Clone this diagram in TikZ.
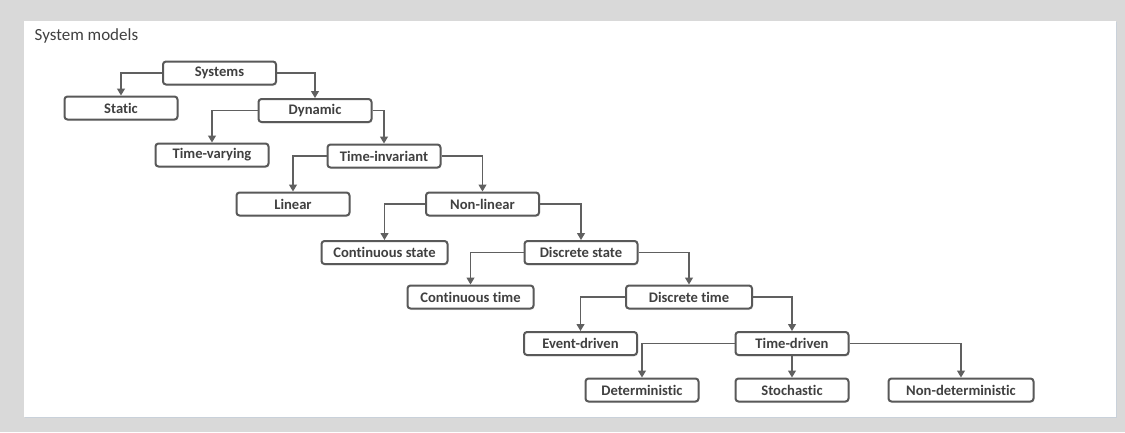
\documentclass[tikz,border=0pt]{standalone}
\usepackage{fontspec}
\setmainfont{Carlito}[Ligatures=CommonOff]
\usetikzlibrary{arrows.meta,shadows}
\definecolor{pagegray}{HTML}{D9D9D9}
\definecolor{paneledge}{HTML}{C9D1DA}
\definecolor{boxline}{HTML}{595959}
\definecolor{wireline}{HTML}{606060}
\definecolor{inktext}{HTML}{404040}
\tikzset{
  box/.style={draw=boxline, line width=2pt, rounded corners=3pt, fill=white,
    minimum width=113pt, minimum height=23pt, inner sep=0pt,
    text=inktext, font=\fontsize{14.6}{16}\selectfont\bfseries,
    drop shadow={opacity=0.12, shadow xshift=1pt, shadow yshift=-1.5pt}},
  widebox/.style={box, minimum width=126pt},
  widestbox/.style={box, minimum width=145pt},
  wire/.style={draw=wireline, line width=1.1pt,
    -{Triangle[length=7pt,width=8pt]}},
}
\begin{document}
\begin{tikzpicture}[x=1pt, y=-1pt]
  % page and white panel
  \fill[pagegray] (0,0) rectangle (1125,432);
  \useasboundingbox (0,0) rectangle (1125,432);
  \fill[paneledge] (25,22) rectangle (1117,418);
  \fill[white] (24,21) rectangle (1116,417);
  \node[anchor=base west, text=inktext, font=\fontsize{17}{19}\selectfont, inner sep=0pt]
    (title) at (34.5,40) {System models};

  % classification tree
  \node[box] (sys)   at (219.5,73)  {Systems};
  \node[box] (stat)  at (121,108)   {Static};
  \node[box] (dyn)   at (315,110.5) {Dynamic};
  \node[box] (tvar)  at (212,155)   {Time-varying};
  \node[box] (tinv)  at (384,156)   {Time-invariant};
  \node[box] (lin)   at (293,204)   {Linear};
  \node[box] (nlin)  at (482.5,204) {Non-linear};
  \node[widebox] (cst)  at (384.5,252.5) {Continuous state};
  \node[box] (dst)   at (581,252.5) {Discrete state};
  \node[widebox] (ctm)  at (470.5,297) {Continuous time};
  \node[widebox] (dtm)  at (689,297)   {Discrete time};
  \node[box] (evd)   at (580.5,343.5) {Event-driven};
  \node[box] (tdr)   at (792,343.5)   {Time-driven};
  \node[box] (det)   at (642,390)     {Deterministic};
  \node[box] (sto)   at (792,390)     {Stochastic};
  \node[widestbox] (ndet) at (961,390) {Non-deterministic};

  % connectors
  \draw[wire] (sys.west)  -| (stat.north);
  \draw[wire] (sys.east)  -| (dyn.north);
  \draw[wire] (dyn.west)  -| (tvar.north);
  \draw[wire] (dyn.east)  -| (tinv.north);
  \draw[wire] (tinv.west) -| (lin.north);
  \draw[wire] (tinv.east) -| (nlin.north);
  \draw[wire] (nlin.west) -| (cst.north);
  \draw[wire] (nlin.east) -| (dst.north);
  \draw[wire] (dst.west)  -| (ctm.north);
  \draw[wire] (dst.east)  -| (dtm.north);
  \draw[wire] (dtm.west)  -| (evd.north);
  \draw[wire] (dtm.east)  -| (tdr.north);
  \draw[wire] (tdr.west)  -| (det.north);
  \draw[wire] (tdr.south) -- (sto.north);
  \draw[wire] (tdr.east)  -| (ndet.north);
\end{tikzpicture}
\end{document}
